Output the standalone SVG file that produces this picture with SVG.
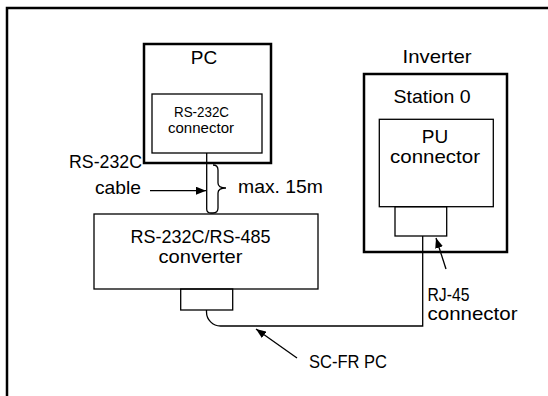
<svg xmlns="http://www.w3.org/2000/svg" width="548" height="396" viewBox="0 0 548 396">
<defs>
<style>
.thick{fill:none;stroke:#000;stroke-width:2.5}
.thin{fill:none;stroke:#000;stroke-width:1.3}
text{font-family:"Liberation Sans",Arial,sans-serif;font-size:19px;fill:#000}
.sm{font-size:14px}
.c{text-anchor:middle}
.e{text-anchor:end}
</style>
<marker id="ah" viewBox="0 0 10 8" refX="10" refY="4" markerWidth="10" markerHeight="8" markerUnits="userSpaceOnUse" orient="auto">
<path d="M0,0 L10,4 L0,8 Z" fill="#000"/>
</marker>
</defs>
<rect width="548" height="396" fill="#fff"/>
<path class="thick" d="M7,396 V8 H548"/>
<g id="pc">
<rect class="thick" x="144" y="44" width="127" height="119"/>
<text class="c" x="204" y="64">PC</text>
</g>
<g id="rs232c-connector">
<rect class="thin" x="152" y="94" width="110" height="59"/>
<text class="c sm" x="201.5" y="117" textLength="55" lengthAdjust="spacingAndGlyphs">RS-232C</text>
<text class="c sm" x="201" y="133" textLength="66" lengthAdjust="spacingAndGlyphs">connector</text>
</g>
<g id="inverter">
<text class="c" x="437" y="63" textLength="69" lengthAdjust="spacingAndGlyphs">Inverter</text>
<rect class="thick" x="364" y="74" width="143" height="178"/>
<text class="c" x="432" y="103" textLength="77" lengthAdjust="spacingAndGlyphs">Station 0</text>
</g>
<g id="pu-connector">
<rect class="thin" x="379.3" y="119.3" width="114" height="87.4"/>
<text class="c" x="435" y="143">PU</text>
<text class="c" x="435" y="163" textLength="90" lengthAdjust="spacingAndGlyphs">connector</text>
</g>
<g id="rj45">
<rect class="thin" x="395" y="206.7" width="51.7" height="29.3"/>
</g>
<g id="converter">
<rect class="thin" x="94" y="214" width="224" height="75"/>
<text class="c" x="200.5" y="243" textLength="140" lengthAdjust="spacingAndGlyphs">RS-232C/RS-485</text>
<text class="c" x="200.5" y="263" textLength="84" lengthAdjust="spacingAndGlyphs">converter</text>
<rect class="thin" x="180.7" y="289" width="52" height="21"/>
</g>
<g id="connectors">
<path class="thin" d="M206.7,153 V209 Q206.7,213 211,213 H213 Q218,213 218,208 V193 Q218,188 226,188 Q218,188 218,183 V170 Q218,165 213,165"/>
<path class="thin" d="M150,190.7 H206" marker-end="url(#ah)"/>
<path class="thin" d="M206.5,310 V312 A14,14 0 0 0 220.5,326 H422.7 V236"/>
<path class="thin" d="M297,358 L256,329" marker-end="url(#ah)"/>
<path class="thin" d="M446,269 L436,238" marker-end="url(#ah)"/>
</g>
<g id="labels">
<text class="e" x="142" y="168" textLength="73" lengthAdjust="spacingAndGlyphs">RS-232C</text>
<text class="e" x="141" y="194" textLength="46" lengthAdjust="spacingAndGlyphs">cable</text>
<text x="238" y="193" textLength="85" lengthAdjust="spacingAndGlyphs">max. 15m</text>
<text x="427.5" y="301" textLength="42" lengthAdjust="spacingAndGlyphs">RJ-45</text>
<text x="427.5" y="320" textLength="90" lengthAdjust="spacingAndGlyphs">connector</text>
<text x="309" y="368" textLength="78" lengthAdjust="spacingAndGlyphs">SC-FR PC</text>
</g>
</svg>
